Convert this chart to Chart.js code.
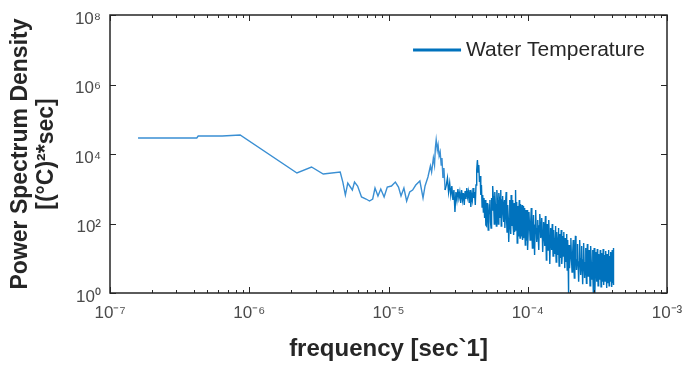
<!DOCTYPE html>
<html>
<head>
<meta charset="utf-8">
<script src="https://cdn.jsdelivr.net/npm/chart.js@4.4.1/dist/chart.umd.min.js"></script>
<style>
  html, body { margin: 0; padding: 0; background: #fff; }
</style>
</head>
<body>
<canvas id="psdChart" width="683" height="372"></canvas>
<script>
// Axis ticks (decades)
const xTicks = [1e-7, 1e-6, 1e-5, 1e-4, 1e-3];
const yTicks = [1e0, 1e2, 1e4, 1e6, 1e8];

// Low frequency part of the spectrum (sparse points)
const sparseFreq = [1.59e-7, 4.2e-7, 4.3e-7, 6.4e-7, 8.6e-7, 2.2e-6, 2.8e-6, 3.4e-6, 4.5e-6, 4.7e-6,
  4.9e-6, 5.1e-6, 5.5e-6, 5.7e-6, 6.0e-6, 6.4e-6, 6.9e-6, 7.3e-6, 7.7e-6, 8.0e-6,
  8.4e-6, 8.8e-6, 9.3e-6, 9.8e-6, 1.05e-5, 1.12e-5, 1.18e-5, 1.23e-5, 1.29e-5, 1.35e-5,
  1.42e-5, 1.49e-5, 1.57e-5, 1.68e-5, 1.77e-5, 1.83e-5, 1.92e-5, 2.0e-5, 2.04e-5, 2.1e-5,
  2.14e-5, 2.17e-5, 2.2e-5, 2.24e-5, 2.27e-5, 2.31e-5, 2.35e-5, 2.39e-5, 2.42e-5, 2.46e-5,
  2.5e-5, 2.55e-5];
const sparsePsd = [28900, 28900, 33000, 33000, 35200, 2840, 4230, 2660, 3030, 1560,
  660, 1460, 920, 1560, 1200, 580, 507, 444, 507, 1050,
  618, 984, 579, 1120, 1200, 1560, 1120, 618, 1050, 444,
  806, 920, 1280, 1670, 542, 1200, 2180, 4520, 3030, 7670,
  4820, 14900, 25300, 13000, 18200, 8750, 11400, 4820, 7670, 2040,
  3960, 920];

// Dense band, 2.6e-5 .. 1e-4
const bandFreqLow = [2.60e-5, 2.65e-5, 2.70e-5, 2.75e-5, 2.80e-5, 2.85e-5, 2.90e-5, 2.95e-5, 3.00e-5, 3.05e-5,
  3.10e-5, 3.15e-5, 3.20e-5, 3.25e-5, 3.30e-5, 3.35e-5, 3.40e-5, 3.45e-5, 3.50e-5, 3.55e-5,
  3.60e-5, 3.65e-5, 3.70e-5, 3.75e-5, 3.80e-5, 3.85e-5, 3.90e-5, 3.95e-5, 4.00e-5, 4.05e-5,
  4.10e-5, 4.15e-5, 4.20e-5, 4.25e-5, 4.30e-5, 4.35e-5, 4.40e-5, 4.45e-5, 4.50e-5, 4.55e-5,
  4.60e-5, 4.65e-5, 4.70e-5, 4.75e-5, 4.80e-5, 4.85e-5, 4.90e-5, 4.95e-5, 5.00e-5,
  5.05e-5, 5.10e-5, 5.15e-5, 5.20e-5, 5.25e-5, 5.30e-5, 5.35e-5, 5.40e-5, 5.45e-5, 5.50e-5,
  5.55e-5, 5.60e-5, 5.65e-5, 5.70e-5, 5.75e-5, 5.80e-5, 5.85e-5, 5.90e-5, 5.95e-5, 6.00e-5,
  6.05e-5, 6.10e-5, 6.15e-5, 6.20e-5, 6.25e-5, 6.30e-5, 6.35e-5, 6.40e-5, 6.45e-5, 6.50e-5,
  6.55e-5, 6.60e-5, 6.65e-5, 6.70e-5, 6.75e-5, 6.80e-5, 6.85e-5, 6.90e-5, 6.95e-5, 7.00e-5,
  7.05e-5, 7.10e-5, 7.15e-5, 7.20e-5, 7.25e-5, 7.30e-5, 7.35e-5, 7.40e-5, 7.45e-5, 7.50e-5,
  7.55e-5, 7.60e-5, 7.65e-5, 7.70e-5, 7.75e-5, 7.80e-5, 7.85e-5, 7.90e-5, 7.95e-5, 8.00e-5,
  8.05e-5, 8.10e-5, 8.15e-5, 8.20e-5, 8.25e-5, 8.30e-5, 8.35e-5, 8.40e-5, 8.45e-5, 8.50e-5,
  8.55e-5, 8.60e-5, 8.65e-5, 8.70e-5, 8.75e-5, 8.80e-5, 8.85e-5, 8.90e-5, 8.95e-5, 9.00e-5,
  9.05e-5, 9.10e-5, 9.15e-5, 9.20e-5, 9.25e-5, 9.30e-5, 9.35e-5, 9.40e-5, 9.45e-5, 9.50e-5,
  9.55e-5, 9.60e-5, 9.65e-5, 9.70e-5, 9.75e-5, 9.80e-5, 9.85e-5, 9.90e-5, 9.95e-5, 1.00e-4];
const bandPsdLow = [1280, 2040, 806, 1460, 661, 1200, 475, 920, 214, 806,
  475, 984, 542, 806, 389, 920, 475, 755, 341, 861,
  507, 1050, 579, 806, 389, 920, 298, 661, 475, 1050,
  542, 806, 341, 1280, 3470, 6720, 3030, 4820, 1560, 2330,
  661, 1280, 298, 661, 214, 542, 144, 475, 90,
  85, 389, 214, 65, 176, 341, 475, 110, 74, 542,
  245, 1200, 618, 279, 97, 806, 364, 214, 85, 920,
  475, 341, 97, 755, 542, 144, 364, 920, 85, 245,
  475, 618, 188, 110, 319, 475, 74, 176, 475, 806,
  126, 57, 214, 341, 144, 29.4, 74, 245, 475, 90,
  50, 661, 85, 144, 319, 475, 85, 47, 214, 389,
  57, 110, 245, 920, 65, 214, 415, 27.5, 85, 319,
  44, 74, 214, 475, 85, 38, 364, 245, 44, 90,
  144, 341, 85, 33.5, 319, 214, 38, 57, 144, 279,
  85, 24, 245, 176, 33.5, 47, 85, 245, 57, 17.3];

// Dense band, 1e-4 .. 4.14e-4
const bandFreqHigh = [1.01e-4, 1.02e-4, 1.03e-4, 1.04e-4, 1.05e-4, 1.06e-4, 1.07e-4, 1.08e-4, 1.09e-4, 1.10e-4,
  1.11e-4, 1.12e-4, 1.13e-4, 1.14e-4, 1.15e-4, 1.16e-4, 1.17e-4, 1.18e-4, 1.19e-4, 1.20e-4,
  1.21e-4, 1.22e-4, 1.23e-4, 1.24e-4, 1.25e-4, 1.26e-4, 1.27e-4, 1.28e-4, 1.29e-4, 1.30e-4,
  1.31e-4, 1.32e-4, 1.33e-4, 1.34e-4, 1.35e-4, 1.36e-4, 1.37e-4, 1.38e-4, 1.39e-4, 1.40e-4,
  1.41e-4, 1.42e-4, 1.43e-4, 1.44e-4, 1.45e-4, 1.46e-4, 1.47e-4, 1.48e-4, 1.49e-4, 1.50e-4,
  1.51e-4, 1.52e-4, 1.53e-4, 1.54e-4, 1.55e-4, 1.56e-4, 1.57e-4, 1.58e-4, 1.59e-4, 1.60e-4,
  1.61e-4, 1.62e-4, 1.63e-4, 1.64e-4, 1.65e-4, 1.66e-4, 1.67e-4, 1.68e-4, 1.69e-4, 1.70e-4,
  1.71e-4, 1.72e-4, 1.73e-4, 1.74e-4, 1.75e-4, 1.76e-4, 1.77e-4, 1.78e-4, 1.79e-4, 1.80e-4,
  1.81e-4, 1.82e-4, 1.83e-4, 1.84e-4, 1.85e-4, 1.86e-4, 1.87e-4, 1.88e-4, 1.89e-4, 1.90e-4,
  1.91e-4, 1.92e-4, 1.93e-4, 1.94e-4, 1.95e-4, 1.96e-4, 1.97e-4, 1.98e-4, 1.99e-4, 2.00e-4,
  2.02e-4, 2.04e-4, 2.06e-4, 2.08e-4, 2.10e-4, 2.12e-4, 2.14e-4, 2.16e-4, 2.18e-4, 2.20e-4,
  2.22e-4, 2.24e-4, 2.26e-4, 2.28e-4, 2.30e-4, 2.32e-4, 2.34e-4, 2.36e-4, 2.38e-4, 2.40e-4,
  2.42e-4, 2.44e-4, 2.46e-4, 2.48e-4, 2.50e-4, 2.52e-4, 2.54e-4, 2.56e-4, 2.58e-4, 2.60e-4,
  2.62e-4, 2.64e-4, 2.66e-4, 2.68e-4, 2.70e-4, 2.72e-4, 2.74e-4, 2.76e-4, 2.78e-4, 2.80e-4,
  2.82e-4, 2.84e-4, 2.86e-4, 2.88e-4, 2.90e-4, 2.92e-4, 2.94e-4, 2.96e-4, 2.98e-4, 3.00e-4,
  3.02e-4, 3.04e-4, 3.06e-4, 3.08e-4, 3.10e-4, 3.12e-4, 3.14e-4, 3.16e-4, 3.18e-4, 3.20e-4,
  3.22e-4, 3.24e-4, 3.26e-4, 3.28e-4, 3.30e-4, 3.32e-4, 3.34e-4, 3.36e-4, 3.38e-4, 3.40e-4,
  3.42e-4, 3.44e-4, 3.46e-4, 3.48e-4, 3.50e-4, 3.52e-4, 3.54e-4, 3.56e-4, 3.58e-4, 3.60e-4,
  3.62e-4, 3.64e-4, 3.66e-4, 3.68e-4, 3.70e-4, 3.72e-4, 3.74e-4, 3.76e-4, 3.78e-4, 3.80e-4,
  3.82e-4, 3.84e-4, 3.86e-4, 3.88e-4, 3.90e-4, 3.92e-4, 3.94e-4, 3.96e-4, 3.98e-4, 4.00e-4,
  4.02e-4, 4.04e-4, 4.06e-4, 4.08e-4, 4.10e-4, 4.12e-4, 4.14e-4];
const bandPsdHigh = [74, 214, 85, 33.5, 110, 279, 57, 19.7, 65, 176,
  44, 12.4, 90, 245, 74, 29.4, 57, 126, 38, 17.3,
  85, 188, 110, 38, 50, 144, 65, 15.1, 33.5, 110,
  74, 22.5, 44, 164, 57, 8.9, 29.4, 97, 50, 17.3,
  38, 126, 33.5, 6.8, 25.7, 74, 44, 17.3, 29.4, 97,
  38, 11.6, 22.5, 65, 33.5, 13.3, 38, 85, 25.7, 7.8,
  19.7, 57, 33.5, 12.4, 17.3, 74, 29.4, 6.0, 15.1, 50,
  22.5, 10.2, 25.7, 65, 17.3, 6.8, 13.3, 44, 19.7, 11.6,
  22.5, 57, 15.1, 5.2, 11.6, 38, 17.3, 7.8, 19.7, 50,
  13.3, 4.6, 10.2, 33.5, 7.8, 0.9, 6.0, 24, 15.1, 5.2,
  12.4, 38, 10.2, 4.0, 13.3, 33.5, 7.8, 2.7, 11.6, 44,
  10.2, 4.6, 8.9, 25.7, 6.8, 2.1, 7.8, 33.5, 10.2, 3.3,
  6.8, 22.5, 6.0, 1.8, 8.9, 27.5, 7.8, 2.7, 6.0, 19.7,
  6.8, 1.9, 7.8, 25.7, 8.9, 3.1, 5.2, 17.3, 6.0, 1.6,
  6.8, 22.5, 7.8, 2.4, 5.2, 17.3, 4.6, 0.9, 6.0, 19.7,
  5.2, 0.8, 4.6, 15.1, 6.0, 2.1, 5.2, 18.5, 6.8, 1.6,
  4.6, 13.3, 5.2, 2.4, 6.8, 17.3, 4.6, 1.5, 5.2, 14.2,
  6.0, 2.1, 4.0, 18.5, 6.0, 1.7, 5.2, 12.4, 4.6, 2.2,
  6.0, 16.2, 4.0, 1.4, 4.6, 13.3, 5.2, 1.9, 6.0, 17.3,
  4.6, 1.6, 4.0, 11.6, 5.2, 2.1, 4.6, 15.1, 6.0, 1.5,
  4.0, 17.3, 5.2, 1.9, 6.0, 19.7, 1.7];

const LINE_COLOR = '#0072BD';
const SPARSE_COLOR = '#3a8fd3';
const AXIS_COLOR = '#262626';
const FONT = "'Liberation Sans', Arial, Helvetica, sans-serif";

const allFreq = sparseFreq.concat(bandFreqLow, bandFreqHigh);
const allPsd = sparsePsd.concat(bandPsdLow, bandPsdHigh);
const points = allFreq.map((f, i) => ({ x: f, y: allPsd[i] }));
const bandStart = bandFreqLow[0];

// 10 with superscript exponent
const SUP = { '0': '⁰', '1': '¹', '2': '²', '3': '³', '4': '⁴', '5': '⁵', '6': '⁶', '7': '⁷', '8': '⁸', '9': '⁹', '-': '⁻' };
function powerLabel(v) {
  const e = Math.round(Math.log10(v));
  return '10' + String(e).split('').map(c => SUP[c]).join('');
}

// MATLAB-like box with inward ticks
const frameTicks = {
  id: 'frameTicks',
  afterDatasetsDraw(chart) {
    const { ctx, chartArea: a, scales: { x, y } } = chart;
    ctx.save();
    ctx.strokeStyle = AXIS_COLOR;
    ctx.lineWidth = 1;
    ctx.beginPath();
    for (let e = -7; e < -3; e++) {
      for (let m = 2; m <= 9; m++) {
        const px = Math.round(x.getPixelForValue(m * Math.pow(10, e))) + 0.5;
        ctx.moveTo(px, a.bottom); ctx.lineTo(px, a.bottom - 3);
        ctx.moveTo(px, a.top); ctx.lineTo(px, a.top + 3);
      }
    }
    xTicks.forEach(v => {
      const px = Math.round(x.getPixelForValue(v)) + 0.5;
      ctx.moveTo(px, a.bottom); ctx.lineTo(px, a.bottom - 6);
      ctx.moveTo(px, a.top); ctx.lineTo(px, a.top + 6);
    });
    yTicks.forEach(v => {
      const py = Math.round(y.getPixelForValue(v)) + 0.5;
      ctx.moveTo(a.left, py); ctx.lineTo(a.left + 6, py);
      ctx.moveTo(a.right, py); ctx.lineTo(a.right - 6, py);
    });
    ctx.stroke();
    ctx.lineWidth = 1.5;
    ctx.strokeRect(a.left, a.top, a.right - a.left, a.bottom - a.top);
    ctx.restore();
  }
};

// Legend in the upper right corner, inside the axes (no box)
const insideLegend = {
  id: 'insideLegend',
  afterDraw(chart) {
    const { ctx, chartArea: a } = chart;
    const ds = chart.data.datasets[0];
    ctx.save();
    ctx.font = '21px ' + FONT;
    ctx.textBaseline = 'middle';
    const w = ctx.measureText(ds.label).width;
    const tx = a.right - 22 - w;
    const ty = a.top + 35;
    ctx.strokeStyle = ds.borderColor;
    ctx.lineWidth = 3;
    ctx.beginPath();
    ctx.moveTo(tx - 53, ty);
    ctx.lineTo(tx - 5, ty);
    ctx.stroke();
    ctx.fillStyle = AXIS_COLOR;
    ctx.fillText(ds.label, tx, ty);
    ctx.restore();
  }
};

Chart.defaults.font.family = FONT;

new Chart(document.getElementById('psdChart'), {
  type: 'line',
  data: {
    datasets: [{
      label: 'Water Temperature',
      data: points,
      borderColor: LINE_COLOR,
      backgroundColor: LINE_COLOR,
      borderWidth: 1.4,
      pointRadius: 0,
      tension: 0,
      fill: false,
      segment: {
        borderColor: c => c.p1.parsed.x < bandStart ? SPARSE_COLOR : LINE_COLOR
      }
    }]
  },
  options: {
    responsive: false,
    animation: false,
    events: [],
    layout: { padding: { top: 15, right: 16, left: 0, bottom: 0 } },
    plugins: {
      tooltip: { enabled: false },
      legend: { display: false }
    },
    scales: {
      x: {
        type: 'logarithmic',
        min: 1e-7,
        max: 1e-3,
        afterBuildTicks: s => { s.ticks = xTicks.map(v => ({ value: v })); },
        afterFit: s => { s.height = 79; s.paddingLeft = 0; s.paddingRight = 0; },
        ticks: {
          callback: v => powerLabel(v),
          color: '#4a4a4a',
          font: { size: 17 },
          padding: 10,
          maxRotation: 0,
          autoSkip: false
        },
        grid: { display: false, drawTicks: false },
        border: { display: false },
        title: {
          display: true,
          text: 'frequency [sec`1]',
          color: AXIS_COLOR,
          font: { size: 24, weight: 'bold' },
          padding: { top: 0, bottom: 8 }
        }
      },
      y: {
        type: 'logarithmic',
        min: 1,
        max: 1e8,
        afterBuildTicks: s => { s.ticks = yTicks.map(v => ({ value: v })); },
        afterFit: s => { s.width = 110; s.paddingTop = 0; s.paddingBottom = 0; },
        ticks: {
          callback: v => powerLabel(v),
          color: '#4a4a4a',
          font: { size: 17 },
          padding: 9,
          labelOffset: 4,
          autoSkip: false
        },
        grid: { display: false, drawTicks: false },
        border: { display: false },
        title: {
          display: true,
          text: ['Power Spectrum Density', '[(°C)²*sec]'],
          color: AXIS_COLOR,
          font: { size: 23, weight: 'bold', lineHeight: 1.15 },
          padding: { top: 7, bottom: 0 }
        }
      }
    }
  },
  plugins: [frameTicks, insideLegend]
});
</script>
</body>
</html>
